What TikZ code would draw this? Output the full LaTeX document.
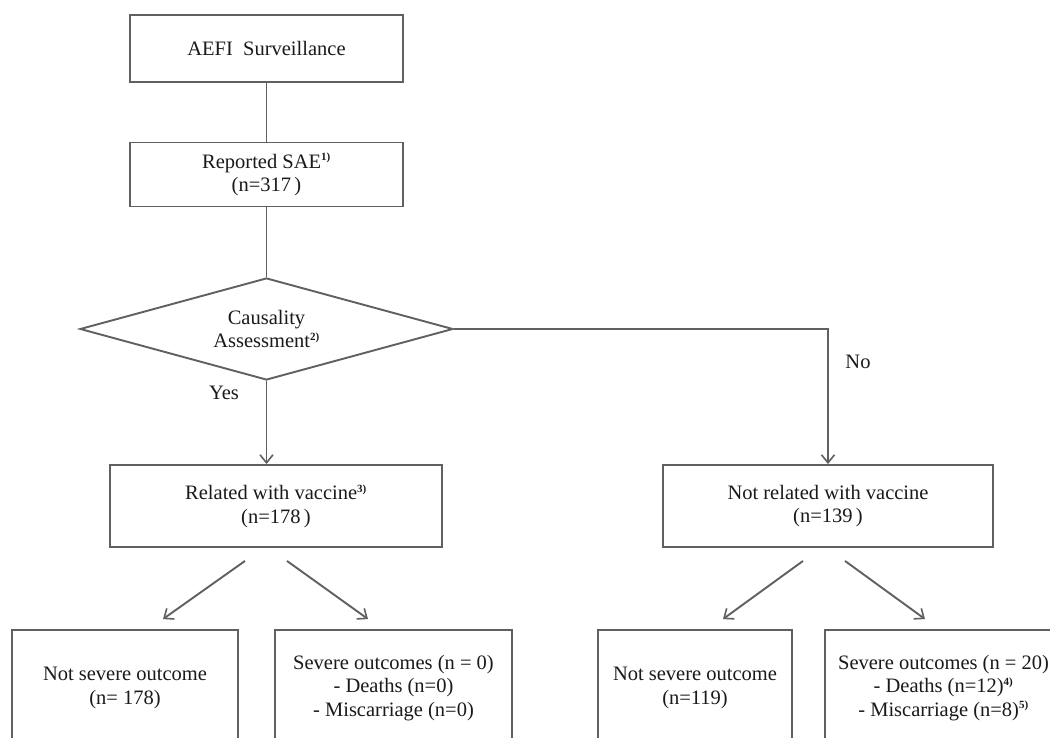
\documentclass[tikz,border=0pt]{standalone}
\usepackage{fontspec}
\setmainfont{Liberation Serif}
\usetikzlibrary{shapes.geometric,arrows.meta}
\newcommand\fnmark[1]{\textsuperscript{\fontsize{11}{11}\selectfont\bfseries #1}}
\definecolor{linegray}{HTML}{606060}
\definecolor{textdark}{HTML}{1A1A1A}
\tikzset{
  box/.style={draw=linegray, line width=1.9pt, rectangle, align=center, inner sep=0pt, text=textdark},
  decision/.style={draw=linegray, line width=1.9pt, diamond, aspect=3.66, align=center, inner sep=0pt,
    minimum width=373pt, minimum height=102pt, text=textdark},
  conn/.style={draw=linegray, line width=1.9pt},
  arr/.style={conn, -{Straight Barb[length=8pt,width=13pt,line width=1.6pt]}},
  lbl/.style={text=textdark, inner sep=0pt}
}
\begin{document}
\begin{tikzpicture}[x=1pt,y=-1pt,font=\fontsize{20.5}{23.5}\selectfont]
\useasboundingbox (0,0) rectangle (1050,738);
\clip (0,0) rectangle (1050,738);
\fill[white] (0,0) rectangle (1050,738);

\node[box, minimum width=273pt, minimum height=67pt] (top) at (266.5,48.5) {AEFI\hspace{0.5em}Surveillance};
\node[box, minimum width=273pt, minimum height=64pt] (rep) at (266.5,174.5) {Reported SAE\fnmark{1)}\\(n=317\,)};
\node[decision] (dia) at (266.5,329) {Causality\\Assessment\fnmark{2)}};
\node[box, minimum width=332pt, minimum height=82pt] (rel) at (276,506) {Related with vaccine\fnmark{3)}\\(n=178\,)};
\node[box, minimum width=330pt, minimum height=82pt] (nrel) at (828,506) {Not related with vaccine\\(n=139\,)};

\node[box, minimum width=226pt, minimum height=116pt] (b1) at (125,688) {Not severe outcome\\(n= 178)};
\node[box, minimum width=237pt, minimum height=116pt] (b2) at (393.5,688) {Severe outcomes (n = 0)\\- Deaths (n=0)\\- Miscarriage (n=0)};
\node[box, minimum width=194pt, minimum height=116pt] (b3) at (695,688) {Not severe outcome\\(n=119)};
\node[box, minimum width=237pt, minimum height=116pt] (b4) at (943.5,688) {Severe outcomes (n = 20)\\- Deaths (n=12)\fnmark{4)}\\- Miscarriage (n=8)\fnmark{5)}};

\node[lbl] (yes) at (224,393) {Yes};
\node[lbl] (no) at (858,362) {No};

\draw[conn] (top.south) -- (rep.north);
\draw[conn] (rep.south) -- (dia.north);
\draw[arr] (dia.south) -- (dia.south |- rel.north);
\draw[arr] (dia.east) -| (nrel.north);

\draw[arr] ([xshift=-31pt,yshift=-13pt]rel.south) -- ([xshift=38pt,yshift=10pt]b1.north);
\draw[arr] ([xshift=11pt,yshift=-13pt]rel.south) -- ([xshift=-25.5pt,yshift=10pt]b2.north);
\draw[arr] ([xshift=-25pt,yshift=-13pt]nrel.south) -- ([xshift=28pt,yshift=10pt]b3.north);
\draw[arr] ([xshift=17pt,yshift=-13pt]nrel.south) -- ([xshift=-18.5pt,yshift=10pt]b4.north);
\end{tikzpicture}
\end{document}
